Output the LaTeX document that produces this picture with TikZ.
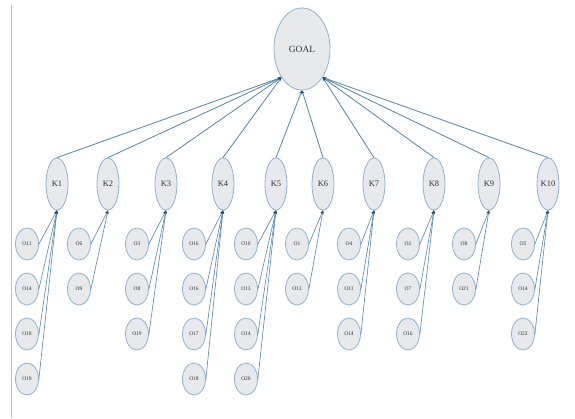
\documentclass[tikz,border=0pt]{standalone}
\usepackage{fontspec}
\setmainfont{Liberation Serif}
\usetikzlibrary{shapes.geometric,arrows.meta}
\definecolor{nodefill}{HTML}{E8E9ED}
\definecolor{nodeline}{HTML}{8FB2CE}
\definecolor{edgeblue}{HTML}{5585AC}
\definecolor{tipblue}{HTML}{1F4E79}
\begin{document}
\begin{tikzpicture}[x=1pt,y=-1pt,
  base/.style={ellipse,draw=nodeline,fill=nodefill,line width=0.8pt,inner sep=0pt,text=black!80},
  goalnode/.style={base,minimum width=56pt,minimum height=82pt,font=\fontsize{9.5}{10}\selectfont},
  knode/.style={base,minimum width=22pt,minimum height=52pt,font=\fontsize{8.5}{9}\selectfont},
  leaf/.style={base,minimum width=23pt,minimum height=32pt,font=\fontsize{5.5}{6}\selectfont},
  link/.style={draw=edgeblue,line width=0.6pt,-{Stealth[length=3.5pt,width=3pt,color=tipblue]}},
  toplink/.style={link,line width=0.8pt}]
\useasboundingbox (0,0) rectangle (575,418);
\fill[white] (0,0) rectangle (575,418);
% left frame rule
\draw[black!25,line width=0.6pt] (11,5) -- (11,418);

% root
\node[goalnode] (goal) at (302,49) {GOAL};

% criteria row
\foreach \k/\x in {1/57,2/108,3/166,4/223,5/276,6/323,7/374,8/434,9/489,10/548}
  \node[knode] (k\k) at (\x,184) {K\k};

% leaves: group / column x / labels
\foreach \k/\x/\labs in {
   1/27/{O11,O14,O18,O19},
   2/79/{O6,O9},
   3/137/{O3,O8,O19},
   4/194/{O16,O16,O17,O18},
   5/246/{O10,O13,O14,O20},
   6/297/{O1,O13},
   7/349/{O4,O11,O14},
   8/408/{O2,O7,O16},
   9/464/{O8,O21},
   10/523/{O5,O14,O22}}{
  \foreach \lab [count=\i] in \labs {
    \node[leaf] (o\k-\i) at (\x,{244+45*(\i-1)}) {\lab};
    \draw[link] (o\k-\i.east) -- (k\k.south);
  }
}

% criteria to root
\foreach \k in {1,2,3,4}
  \draw[toplink] (k\k.north) -- (goal.-126);
\foreach \k in {5,6}
  \draw[toplink] (k\k.north) -- (goal.south);
\foreach \k in {7,8,9,10}
  \draw[toplink] (k\k.north) -- (goal.-54);
\end{tikzpicture}
\end{document}
